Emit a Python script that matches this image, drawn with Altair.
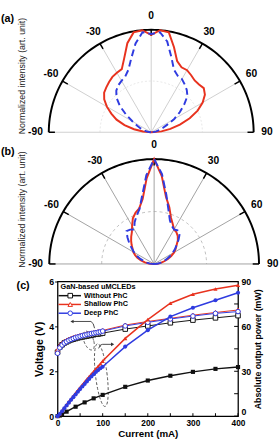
import altair as alt
import numpy as np
import pandas as pd

FONT = "Liberation Sans"
RED = "#e8321e"
BLUE = "#2f3be0"
BLACK = "#111111"

# ---------------- polar data (normalized intensity vs angle) ----------------
angles = list(range(-90, 91, 5))
a_shallow = [0.00, 0.08, 0.17, 0.27, 0.36, 0.43, 0.50, 0.56, 0.60, 0.62, 0.64, 0.66, 0.67,
             0.68, 0.77, 0.90, 0.99, 1.00, 0.95, 1.00, 0.99, 0.86, 0.74, 0.70, 0.70, 0.68,
             0.66, 0.66, 0.67, 0.64, 0.58, 0.50, 0.40, 0.29, 0.19, 0.10, 0.00]
a_deep = [0.00, 0.02, 0.04, 0.07, 0.11, 0.15, 0.21, 0.30, 0.40, 0.48, 0.53, 0.56, 0.58,
          0.60, 0.65, 0.75, 0.88, 0.98, 0.96, 0.98, 0.90, 0.76, 0.65, 0.61, 0.60, 0.57,
          0.54, 0.50, 0.42, 0.34, 0.26, 0.17, 0.12, 0.08, 0.05, 0.02, 0.00]
b_shallow = [0.00, 0.05, 0.09, 0.13, 0.17, 0.20, 0.23, 0.25, 0.28, 0.31, 0.34, 0.37, 0.42,
             0.48, 0.52, 0.55, 0.63, 0.82, 1.00, 0.84, 0.65, 0.56, 0.47, 0.42, 0.38, 0.37,
             0.35, 0.32, 0.28, 0.25, 0.22, 0.18, 0.14, 0.10, 0.07, 0.04, 0.00]
b_deep = [0.00, 0.04, 0.07, 0.10, 0.14, 0.18, 0.22, 0.26, 0.31, 0.36, 0.41, 0.40, 0.38,
          0.44, 0.49, 0.54, 0.66, 0.85, 1.00, 0.86, 0.67, 0.53, 0.44, 0.40, 0.38, 0.39,
          0.38, 0.33, 0.28, 0.24, 0.20, 0.16, 0.12, 0.09, 0.06, 0.03, 0.00]

spoke_angles = [-90, -60, -30, 0, 30, 60, 90]
tick_angles = [-90, -60, -30, 0, 30, 60, 90]
tick_labels = ["-90", "-60", "-30", "0", "30", "60", "90"]
arc_angles = list(range(-90, 91, 2))

# ---------------- (c) L-I-V data ----------------
series = ["Without PhC", "Shallow PhC", "Deep PhC"]
current = [0, 5, 10, 15, 20, 25, 30, 35, 40, 45, 50, 55, 60, 65, 70, 75, 80, 85, 90, 95,
           100, 150, 200, 250, 300, 350, 400]
v_without = [2.85, 3.08, 3.18, 3.26, 3.31, 3.36, 3.40, 3.43, 3.46, 3.49, 3.51, 3.53, 3.55,
             3.57, 3.59, 3.61, 3.63, 3.65, 3.66, 3.68, 3.70, 3.88, 4.02, 4.16, 4.28, 4.38, 4.48]
v_shallow = [2.95, 3.15, 3.25, 3.32, 3.38, 3.43, 3.47, 3.51, 3.54, 3.57, 3.60, 3.62, 3.64,
             3.67, 3.69, 3.71, 3.73, 3.75, 3.77, 3.79, 3.82, 4.06, 4.22, 4.36, 4.50, 4.62, 4.73]
v_deep = [2.80, 3.05, 3.17, 3.26, 3.32, 3.38, 3.42, 3.46, 3.50, 3.53, 3.56, 3.59, 3.61,
          3.64, 3.66, 3.68, 3.70, 3.72, 3.74, 3.76, 3.79, 4.02, 4.18, 4.33, 4.46, 4.58, 4.66]
p_shallow = [0, 1.6, 3.6, 5.6, 7.6, 9.6, 11.6, 13.5, 15.4, 17.3, 19.2, 21.0, 22.8, 24.6,
             26.4, 28.2, 29.9, 31.6, 33.3, 35.0, 36.8, 52.0, 64.5, 75.5, 81.5, 85.0, 87.5]
p_deep = [0, 1.4, 3.3, 5.2, 7.1, 9.0, 10.9, 12.7, 14.5, 16.3, 18.1, 19.8, 21.5, 23.2,
          24.9, 26.5, 28.0, 29.5, 30.8, 32.0, 33.0, 46.5, 57.5, 66.5, 72.5, 77.5, 82.5]
current_black = [0, 5, 10, 20, 40, 60, 80, 100, 150, 200, 250, 300, 350, 400]
p_without = [0, 0.4, 1.2, 3.0, 6.3, 9.2, 11.9, 14.2, 19.6, 23.8, 27.0, 29.6, 31.6, 32.8]

x_ticks = [0, 50, 100, 150, 200, 250, 300, 350, 400]
p_ticks = [0, 15, 30, 45, 60, 75, 90]

# dashed-ellipse annotations (centre, half-sizes in data units, shear) and arrows
ell1 = dict(cx=69, cy=3.37, ax=11, ay=0.42, k=6)
ell2 = dict(cx=97, cy=1.83, ax=13, ay=1.40, k=8)
arrow1_x = [32, 74, 79, 82]
arrow1_y = [4.22, 4.22, 4.12, 3.92]
arrow2_x = [91, 95, 100, 122]
arrow2_y = [3.02, 3.17, 3.20, 3.20]

# ---------------- polar panel builder ----------------
PX = "datum.r*sin(datum.ang*PI/180)"
PY = "datum.r*cos(datum.ang*PI/180)"


def polar(tag, red_r, blue_r, xdom, ydom, h, spoke_color, inner_color, inner_dash,
          blue_dash, title_y, title_limit, tag_y):
    xs = alt.Scale(domain=xdom, nice=False, zero=False)
    ys = alt.Scale(domain=ydom, nice=False, zero=False)

    def X(f):
        return alt.X(f, type="quantitative", scale=xs, axis=None)

    def Y(f):
        return alt.Y(f, type="quantitative", scale=ys, axis=None)

    n = len(arc_angles)
    frame = pd.DataFrame({"ang": arc_angles * 2, "r": [1.0] * n + [0.5] * n,
                          "ring": ["outer"] * n + ["inner"] * n})
    inner = (alt.Chart(frame).transform_filter("datum.ring == 'inner'")
             .transform_calculate(px=PX, py=PY)
             .mark_line(color=inner_color, strokeWidth=1, strokeDash=inner_dash)
             .encode(x=X("px"), y=Y("py"), order=alt.Order("ang:Q")))
    spokes = (alt.Chart(pd.DataFrame({"ang": spoke_angles}))
              .transform_calculate(x0="0", y0="0", x1="sin(datum.ang*PI/180)",
                                   y1="cos(datum.ang*PI/180)")
              .mark_rule(color=spoke_color, strokeWidth=1)
              .encode(x=X("x0"), y=Y("y0"), x2="x1:Q", y2="y1:Q"))
    outer = (alt.Chart(frame).transform_filter("datum.ring == 'outer'")
             .transform_calculate(px=PX, py=PY)
             .mark_line(color="black", strokeWidth=2)
             .encode(x=X("px"), y=Y("py"), order=alt.Order("ang:Q")))
    ticks = (alt.Chart(pd.DataFrame({"ang": tick_angles}))
             .transform_calculate(x0="0.94*sin(datum.ang*PI/180)",
                                  y0="0.94*cos(datum.ang*PI/180)",
                                  x1="sin(datum.ang*PI/180)", y1="cos(datum.ang*PI/180)")
             .mark_rule(color="black", strokeWidth=1.5)
             .encode(x=X("x0"), y=Y("y0"), x2="x1:Q", y2="y1:Q"))
    m = len(angles)
    cdf = pd.DataFrame({"ang": angles * 2, "r": red_r + blue_r,
                        "s": ["Shallow PhC"] * m + ["Deep PhC"] * m})
    red = (alt.Chart(cdf).transform_filter("datum.s == 'Shallow PhC'")
           .transform_calculate(px=PX, py=PY)
           .mark_line(color=RED, strokeWidth=2)
           .encode(x=X("px"), y=Y("py"), order=alt.Order("ang:Q")))
    blue = (alt.Chart(cdf).transform_filter("datum.s == 'Deep PhC'")
            .transform_calculate(px=PX, py=PY)
            .mark_line(color=BLUE, strokeWidth=2, strokeDash=blue_dash)
            .encode(x=X("px"), y=Y("py"), order=alt.Order("ang:Q")))
    labels = (alt.Chart(pd.DataFrame({"ang": tick_angles, "lab": tick_labels}))
              .transform_calculate(lx="1.13*sin(datum.ang*PI/180)",
                                   ly="1.13*cos(datum.ang*PI/180)")
              .mark_text(font=FONT, fontWeight="bold", fontSize=10.5, color="black",
                         baseline="middle")
              .encode(x=X("lx"), y=Y("ly"), text="lab:N"))
    tag_txt = (alt.Chart(pd.DataFrame({"t": [tag]}))
               .mark_text(font=FONT, fontWeight="bold", fontSize=11, align="left",
                          baseline="middle", color="black")
               .encode(text="t:N", x=alt.value(-58), y=alt.value(tag_y)))
    ytitle = (alt.Chart(pd.DataFrame({"t": ["Normalized intensity (art. unit)"]}))
              .mark_text(font=FONT, fontSize=9, angle=270, align="left", baseline="middle",
                         color="#222222", limit=title_limit, ellipsis="")
              .encode(text="t:N", x=alt.value(-36), y=alt.value(title_y)))
    return (alt.layer(inner, spokes, outer, ticks, red, blue, labels, tag_txt, ytitle)
            .properties(width=220, height=h,
                        view=alt.ViewBackground(stroke="transparent")))


pa = polar("(a)", a_shallow, a_deep, [-0.9143, 1.1810], [-0.1048, 1.2286], 140,
           "#cfcfcf", "#e6e6e6", [2, 2], [7, 4], 131, 200, 13)
pb = polar("(b)", b_shallow, b_deep, [-0.9209, 1.1256], [-0.1674, 1.1535], 142,
           "#a0a0a0", "#bdbdbd", [3, 3], [8, 4], 128, 127, 9)

# ---------------- (c) ----------------
cscale = alt.Scale(domain=series, range=[BLACK, RED, BLUE])
sscale = alt.Scale(domain=series, range=["square", "triangle-up", "circle"])
xsc = alt.Scale(domain=[0, 400], nice=False, zero=False)
vsc = alt.Scale(domain=[0, 6], nice=False)
psc = alt.Scale(domain=[0, 90], nice=False)

k = len(current)
vdf = pd.DataFrame({"I": current * 3, "V": v_without + v_shallow + v_deep,
                    "s": [series[0]] * k + [series[1]] * k + [series[2]] * k})
kb = len(current_black)
pdf = pd.DataFrame({"I": current_black + current + current,
                    "P": p_without + p_shallow + p_deep,
                    "s": [series[0]] * kb + [series[1]] * k + [series[2]] * k})

xenc = alt.X("I:Q", scale=xsc,
             axis=alt.Axis(values=[0, 100, 200, 300, 400], title="Current (mA)",
                           labelFontSize=8.5, titleFontSize=10, ticks=False, domain=False,
                           labelPadding=3, titlePadding=1, labelFlush=False))
venc = alt.Y("V:Q", scale=vsc,
             axis=alt.Axis(values=[0, 2, 4, 6], title="Voltage (V)", labelFontSize=9,
                           titleFontSize=11, tickSize=3, domain=False, labelPadding=1,
                           titlePadding=4))
penc = alt.Y("P:Q", scale=psc,
             axis=alt.Axis(orient="right", values=[0, 30, 60, 90],
                           title="Absolute output power (mW)", labelFontSize=9,
                           labelBaseline=alt.condition("datum.value == 0", alt.value("bottom"),
                                                       alt.value("middle")),
                           titleFontSize=9, titleAngle=270, titleBaseline="top",
                           ticks=False, domain=False, labelPadding=3, titlePadding=3))

v_base = alt.Chart(vdf).encode(x=xenc, y=venc)
v_line = v_base.mark_line(strokeWidth=1).encode(
    color=alt.Color("s:N", scale=cscale, legend=None), detail="s:N")
v_pts = v_base.mark_point(filled=True, fill="white", size=22, strokeWidth=1, opacity=1).encode(
    stroke=alt.Stroke("s:N", scale=cscale, legend=None),
    shape=alt.Shape("s:N", scale=sscale, legend=None))

p_base = alt.Chart(pdf).encode(x=alt.X("I:Q", scale=xsc), y=penc)
p_line = p_base.mark_line(strokeWidth=1.5).encode(
    color=alt.Color("s:N", scale=cscale, legend=None), detail="s:N")
p_pts = p_base.mark_point(filled=True, size=18, opacity=1).encode(
    color=alt.Color("s:N", scale=cscale, legend=None),
    shape=alt.Shape("s:N", scale=sscale, legend=None))

# inward ticks
bt = (alt.Chart(pd.DataFrame({"t": x_ticks})).mark_rule(color="black", strokeWidth=1)
      .encode(x=alt.X("t:Q", scale=xsc), y=alt.value(138), y2=alt.value(135)))
rt = (alt.Chart(pd.DataFrame({"t": p_ticks})).mark_rule(color="black", strokeWidth=1)
      .encode(y=alt.Y("t:Q", scale=psc), x=alt.value(185), x2=alt.value(181)))

# annotations


def ellipse_df(e):
    t = np.linspace(0, 2 * np.pi, 64)
    return pd.DataFrame({"o": np.arange(64),
                         "I": e["cx"] + e["ax"] * np.cos(t) - e["k"] * np.sin(t),
                         "V": e["cy"] + e["ay"] * np.sin(t)})


ann = []
for e in (ell1, ell2):
    ann.append(alt.Chart(ellipse_df(e)).mark_line(color="#555555", strokeWidth=1,
                                                  strokeDash=[3, 2])
               .encode(x=alt.X("I:Q", scale=xsc), y=alt.Y("V:Q", scale=vsc),
                       order="o:Q"))
for ax_, ay_, shape, idx in ((arrow1_x, arrow1_y, "triangle-left", 0),
                             (arrow2_x, arrow2_y, "triangle-right", -1)):
    adf = pd.DataFrame({"I": ax_, "V": ay_, "o": list(range(len(ax_)))})
    ann.append(alt.Chart(adf).mark_line(color="#333333", strokeWidth=0.9)
               .encode(x=alt.X("I:Q", scale=xsc), y=alt.Y("V:Q", scale=vsc), order="o:Q"))
    hdf = pd.DataFrame({"I": [ax_[idx]], "V": [ay_[idx]]})
    ann.append(alt.Chart(hdf).mark_point(shape=shape, filled=True, size=14, color="#333333",
                                         opacity=1)
               .encode(x=alt.X("I:Q", scale=xsc), y=alt.Y("V:Q", scale=vsc)))

# manual legend
leg = []
legend_df = pd.DataFrame({"s": series, "i": [0, 1, 2]})
cols = [BLACK, RED, BLUE]
shapes = ["square", "triangle-up", "circle"]
leg.append(alt.Chart(pd.DataFrame({"t": ["GaN-based uMCLEDs"]}))
           .mark_text(font=FONT, fontWeight="bold", fontSize=7.5, align="left",
                      baseline="middle", color="black")
           .encode(text="t:N", x=alt.value(3), y=alt.value(6)))
for i in range(3):
    row = alt.Chart(legend_df).transform_filter(f"datum.i == {i}")
    yy = 14.5 + 9 * i
    leg.append(row.mark_rule(color=cols[i], strokeWidth=1.5)
               .encode(x=alt.value(1), x2=alt.value(24), y=alt.value(yy)))
    leg.append(row.mark_point(shape=shapes[i], filled=True, fill="white", stroke=cols[i],
                              size=22, strokeWidth=1, opacity=1)
               .encode(x=alt.value(13), y=alt.value(yy)))
    leg.append(row.mark_text(font=FONT, fontWeight="bold", fontSize=7.5, align="left",
                             baseline="middle", color="black")
               .encode(text="s:N", x=alt.value(27), y=alt.value(yy)))

ctag = (alt.Chart(pd.DataFrame({"t": ["(c)"]}))
        .mark_text(font=FONT, fontWeight="bold", fontSize=11, align="left",
                   baseline="middle", color="black")
        .encode(text="t:N", x=alt.value(-42), y=alt.value(5)))

volt_layer = alt.layer(bt, *ann, v_line, v_pts, *leg, ctag)
pow_layer = alt.layer(rt, p_line, p_pts)
pc = (alt.layer(volt_layer, pow_layer).resolve_scale(y="independent")
      .properties(width=185, height=138,
                  view=alt.ViewBackground(stroke="black", strokeWidth=1.3)))

chart = (alt.vconcat(pa, pb, pc, spacing=0, bounds="flush")
         .properties(padding=0, autosize=alt.AutoSizeParams(type="pad"), background="white")
         .configure(font=FONT)
         .configure_axis(labelFont=FONT, titleFont=FONT, labelFontWeight="bold",
                         titleFontWeight="bold", labelColor="black", titleColor="black",
                         grid=False, tickColor="black"))

chart.save("out.html", embed_options={"renderer": "svg", "actions": False})
